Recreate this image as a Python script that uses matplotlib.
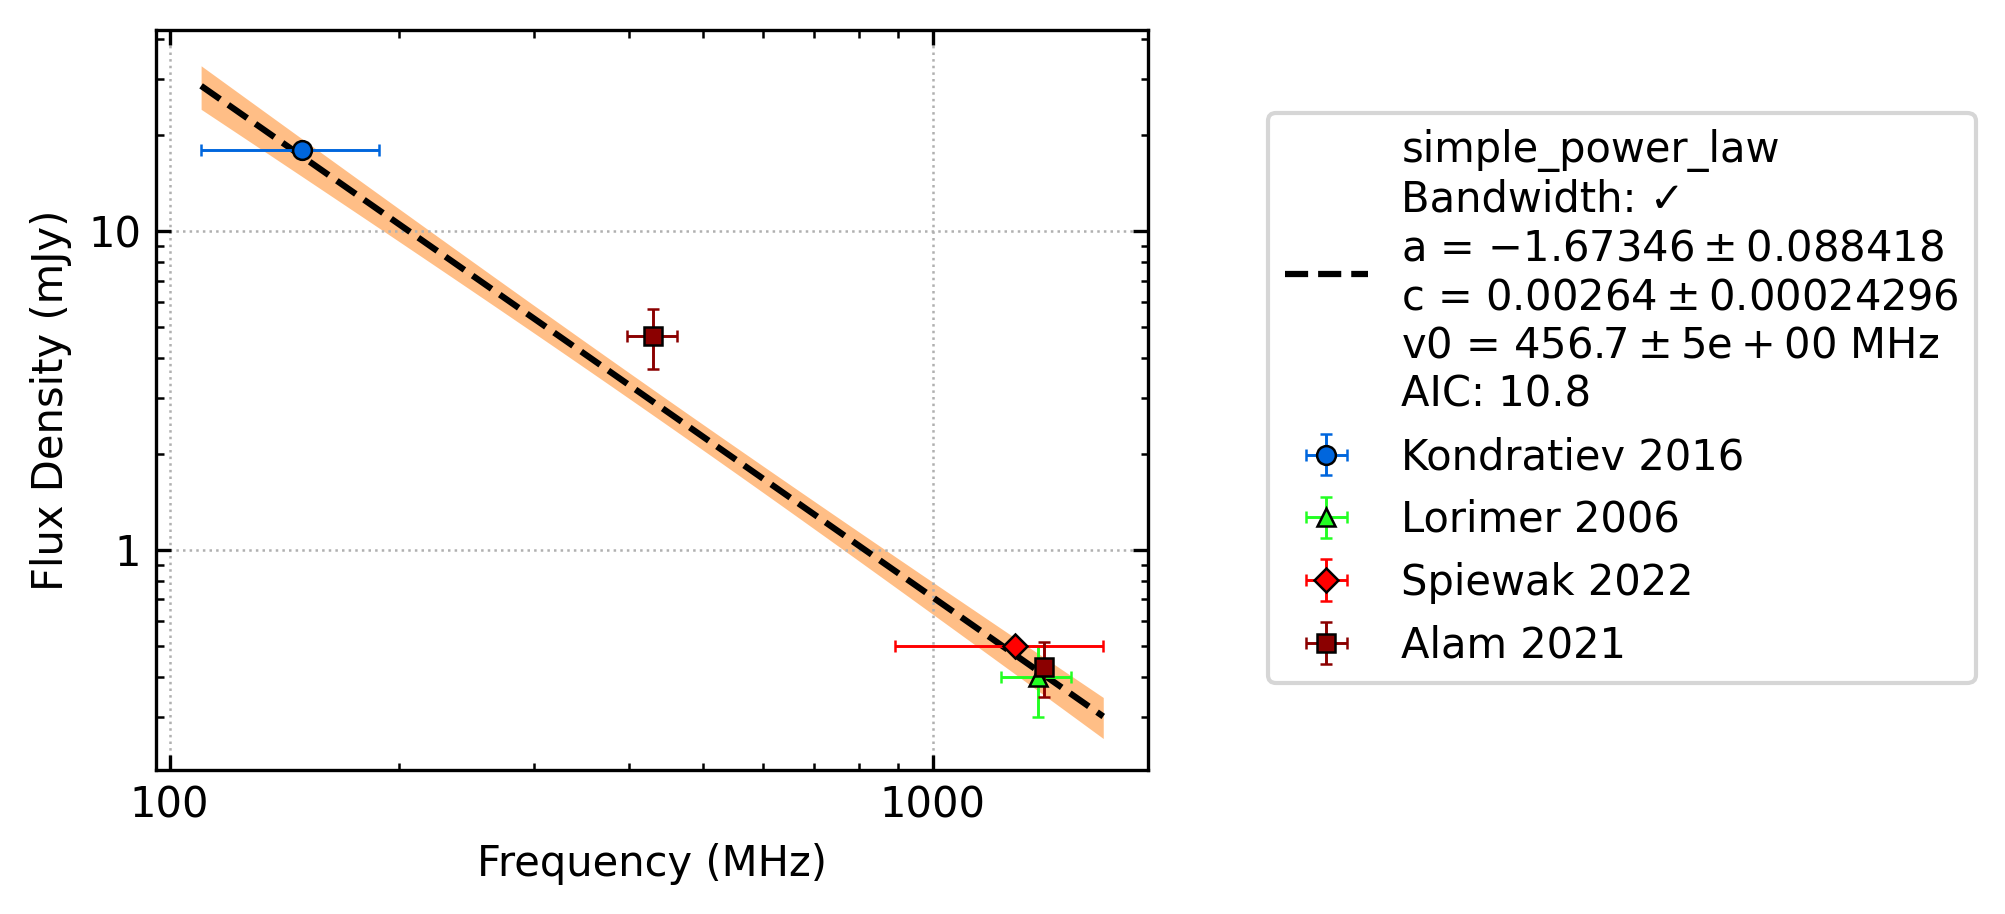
"""
Radio spectrum of a pulsar with a simple power-law fit.
"""

import numpy as np
import matplotlib
matplotlib.use("Agg")
import matplotlib.pyplot as plt
from matplotlib.ticker import FuncFormatter, LogLocator, NullFormatter

plt.rcParams['font.family'] = ['DejaVu Sans']
plt.rcParams['font.size'] = 10
plt.rcParams['mathtext.default'] = 'regular'

# Measurements (frequency MHz, flux density mJy)
refs = ["Kondratiev 2016", "Lorimer 2006", "Spiewak 2022", "Alam 2021"]
freqs = [[149.0], [1374.0], [1284.0], [430.0, 1400.0]]
freq_errs = [[39.0], [145.0], [390.0], [32.0, 20.0]]
fluxes = [[18.0], [0.40], [0.50], [4.7, 0.43]]
flux_errs = [[0.0], [0.10], [0.0], [1.0, 0.085]]
colors = ["#0066dd", "#22ff22", "#ff0000", "#8b0000"]
markers = ["o", "^", "D", "s"]

# Fit result (simple power law, c in Jy)
fit_name = "simple_power_law"
a, a_err = -1.67346, 0.088418
c, c_err = 0.00264, 0.00024296
v0 = 456.7
aic = 10.8

fig = plt.figure(figsize=(2005 / 300, 914 / 300), dpi=300)
ax = fig.add_axes([156 / 2005, 1 - 770 / 914, (1148 - 156) / 2005, (770 - 30) / 914])
ax.set_xscale('log')
ax.set_yscale('log')

# Fit curve and uncertainty band over the measured band range
all_f = np.concatenate([np.array(f) for f in freqs])
all_df = np.concatenate([np.array(d) for d in freq_errs])
fx = np.logspace(np.log10((all_f - all_df).min()), np.log10((all_f + all_df).max()), 200)
fy = c * 1e3 * (fx / v0) ** a
fe = fy * np.sqrt((c_err / c) ** 2 + (a_err * np.log(fx / v0)) ** 2)
ax.fill_between(fx, fy - fe, fy + fe, color='C1', alpha=0.5, linewidth=0)
label = (fit_name + "\nBandwidth: \u2713"
         + "\na = $-1.67346 \\pm 0.088418$"
         + "\nc = $0.00264 \\pm 0.00024296$"
         + "\nv0 = $456.7 \\pm 5e+00$ MHz"
         + "\nAIC: " + str(aic))
ax.plot(fx, fy, color='black', linestyle='--', linewidth=1.5, label=label)

for ref, f, df, s, ds, col, m in zip(refs, freqs, freq_errs, fluxes, flux_errs, colors, markers):
    ax.errorbar(f, s, xerr=df, yerr=ds, fmt=m, color=col, ecolor=col,
                markeredgecolor='black', markeredgewidth=0.6,
                markersize=4.0 if m == "D" else 4.5,
                elinewidth=0.7, capsize=1.5, capthick=0.7, label=ref)

ax.set_xlim(96, 1916)
ax.set_ylim(0.204, 42.8)

fmt = FuncFormatter(lambda v, pos: "%g" % v)
ax.xaxis.set_major_formatter(fmt)
ax.yaxis.set_major_formatter(fmt)
for axis in (ax.xaxis, ax.yaxis):
    axis.set_minor_locator(LogLocator(base=10, subs=np.arange(2, 10)))
    axis.set_minor_formatter(NullFormatter())
ax.tick_params(which='both', direction='in', top=True, right=True)
ax.tick_params(which='major', length=3.5, width=0.8)
ax.tick_params(which='minor', length=1.8, width=0.6)
ax.grid(which='major', linestyle=':', color='#b0b0b0', linewidth=0.6)

ax.set_xlabel("Frequency (MHz)")
ax.set_ylabel("Flux Density (mJy)")

fig.legend(loc='center left', bbox_to_anchor=(1268 / 2005, 1 - 398 / 914), borderaxespad=0)

fig.savefig("out.png", dpi=300)
